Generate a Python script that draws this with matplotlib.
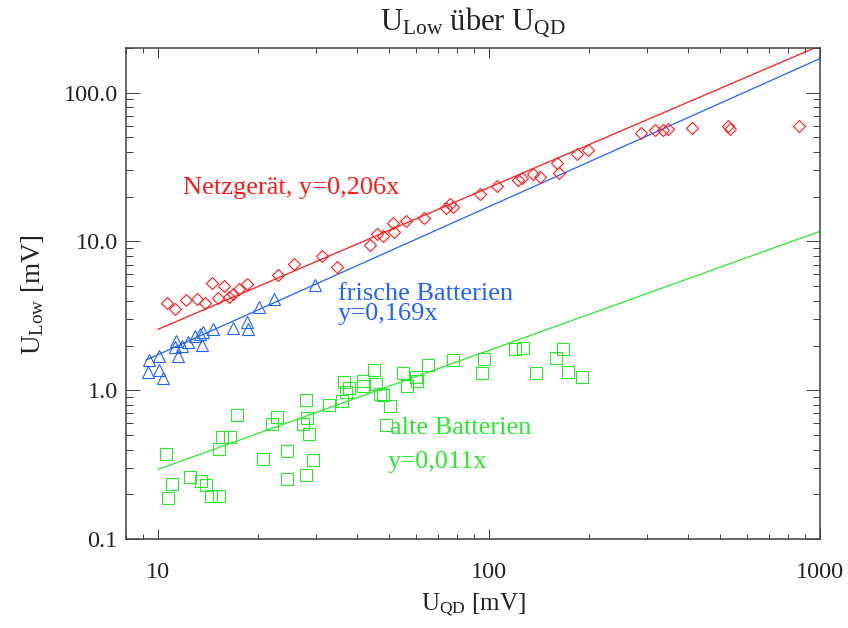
import matplotlib
matplotlib.use("Agg")
import matplotlib.pyplot as plt
from matplotlib.ticker import LogLocator, FixedLocator, FixedFormatter, NullFormatter

plt.rcParams['font.family'] = ['Liberation Serif', 'DejaVu Serif']
plt.rcParams['mathtext.fontset'] = 'custom'
plt.rcParams['mathtext.rm'] = 'Liberation Serif'
plt.rcParams['mathtext.it'] = 'Liberation Serif:italic'

# ---- data ----
netz_x = [10.67, 11.25, 12.12, 13.14, 13.87, 14.59, 15.83, 15.21, 16.42, 16.88,
          17.57, 18.61, 22.99, 25.76, 31.36, 34.83, 43.70, 45.78, 47.94, 51.39,
          51.75, 56.14, 63.71, 74.3, 76.38, 77.68, 94.13, 105.5, 122.6, 125.6,
          136.1, 142.6, 160.8, 163.1, 184.1, 198.7, 287.3, 317.3, 334.8, 348.1,
          409.7, 528.4, 534.6, 864.3]
netz_y = [3.87, 3.51, 4.04, 4.08, 3.84, 5.22, 5.01, 4.14, 4.25, 4.41,
          4.76, 5.17, 5.94, 7.04, 7.96, 6.75, 9.45, 11.19, 10.85, 13.2,
          11.6, 13.68, 14.33, 16.86, 17.88, 16.99, 20.84, 23.6, 25.8, 26.7,
          28.3, 27.1, 33.4, 29.0, 38.4, 41.0, 53.1, 55.8, 55.8, 56.5,
          58.2, 59.7, 57.3, 59.7]

frisch_x = [9.39, 10.07, 9.35, 10.07, 10.37, 11.33, 11.25, 11.79, 11.47, 12.35,
            12.94, 13.39, 13.70, 13.55, 14.63, 16.81, 18.61, 18.74, 20.23, 22.46,
            29.81]
frisch_y = [1.597, 1.70, 1.333, 1.38, 1.22, 2.15, 1.944, 1.98, 1.70, 2.12,
            2.31, 2.39, 2.47, 2.01, 2.57, 2.61, 2.89, 2.57, 3.61, 4.10,
            5.09]

alt_x = [10.57, 11.05, 10.70, 12.49, 13.49, 13.96, 14.43, 15.32, 17.36, 15.29,
         15.58, 16.50, 20.80, 22.06, 22.84, 24.59, 24.49, 27.94, 27.48, 28.25,
         28.59, 29.45, 28.0, 32.93, 35.89, 36.54, 37.63, 37.06, 41.71, 41.71,
         44.94, 45.57, 46.69, 47.67, 50.22, 48.68, 54.80, 56.42, 59.98, 60.73,
         65.42, 77.68, 96.78, 95.45, 119.8, 126.4, 138.4, 159.1, 167.7, 173.6,
         191.4]
alt_y = [0.372, 0.235, 0.188, 0.263, 0.246, 0.231, 0.196, 0.196, 0.682, 0.404,
         0.484, 0.484, 0.346, 0.591, 0.659, 0.391, 0.254, 0.861, 0.594, 0.649,
         0.509, 0.340, 0.270, 0.797, 0.847, 1.146, 1.031, 0.971, 1.154, 1.069,
         1.368, 1.102, 0.940, 0.930, 0.785, 0.585, 1.30, 1.077, 1.234, 1.164,
         1.485, 1.597, 1.614, 1.30, 1.893, 1.914, 1.30, 1.64, 1.884, 1.333,
         1.222]

# fit lines (end points)
netz_fit_x = [10, 1000]
netz_fit_y = [2.57, 206.5]
frisch_fit_x = [9.2, 1000]
frisch_fit_y = [1.60, 169.0]
alt_fit_x = [10, 1000]
alt_fit_y = [0.295, 11.7]

y_ticks = [0.1, 1.0, 10.0, 100.0]
y_tick_labels = ['0.1', '1.0', '10.0', '100.0']
x_ticks = [10, 100, 1000]
x_tick_labels = ['10', '100', '1000']

RED = '#ff1a1a'
BLUE = '#1f63ff'
GREEN = '#2ae82a'
AX = '#404040'

W, H = 848, 628
fig = plt.figure(figsize=(W / 100, H / 100), dpi=100)
l, r, t, b = 126, 820, 47.7, 539.3
ax = fig.add_axes([l / W, 1 - b / H, (r - l) / W, (b - t) / H])
ax.set_xscale('log')
ax.set_yscale('log')
ax.set_xlim(8, 1000)
ax.set_ylim(0.1, 200)

ax.plot(netz_fit_x, netz_fit_y, color=RED, lw=0.9)
ax.plot(frisch_fit_x, frisch_fit_y, color=BLUE, lw=0.9)
ax.plot(alt_fit_x, alt_fit_y, color=GREEN, lw=0.9)

ax.plot(netz_x, netz_y, ls='none', marker='D', ms=6.0, mfc='none', mec=RED, mew=0.8)
ax.plot(frisch_x, frisch_y, ls='none', marker='^', ms=8.0, mfc='none', mec=BLUE, mew=0.8)
ax.plot(alt_x, alt_y, ls='none', marker='s', ms=8.3, mfc='none', mec=GREEN, mew=0.8)

ax.xaxis.set_major_locator(FixedLocator(x_ticks))
ax.xaxis.set_major_formatter(FixedFormatter(x_tick_labels))
ax.xaxis.set_minor_locator(LogLocator(base=10, subs=range(2, 10), numticks=20))
ax.xaxis.set_minor_formatter(NullFormatter())
ax.yaxis.set_major_locator(FixedLocator(y_ticks))
ax.yaxis.set_major_formatter(FixedFormatter(y_tick_labels))
ax.yaxis.set_minor_locator(LogLocator(base=10, subs=range(2, 10), numticks=20))
ax.yaxis.set_minor_formatter(NullFormatter())

ax.tick_params(axis='x', which='major', direction='in', top=True, bottom=True,
               length=7.2, width=0.7, color=AX, labelsize=17.5, labelcolor='#222222', pad=16)
ax.tick_params(axis='x', which='minor', direction='in', top=True, bottom=True,
               length=3.6, width=0.7, color=AX)
ax.tick_params(axis='y', which='major', direction='in', left=True, right=True,
               length=10, width=0.7, color=AX, labelsize=17.5, labelcolor='#222222', pad=6)
ax.tick_params(axis='y', which='minor', direction='in', left=True, right=True,
               length=5, width=0.7, color=AX)
for s in ax.spines.values():
    s.set_linewidth(1.1)
    s.set_color(AX)

def fx(px):
    return px / W

def fy(py):
    return 1 - py / H

fig.text(fx(473), fy(22), r'U$_{\mathrm{Low}}$ über U$_{\mathrm{QD}}$', ha='center', va='center',
         fontsize=22, color='#222222')
fig.text(fx(473), fy(605), r'U$_{\mathrm{QD}}$ [mV]', ha='center', va='center',
         fontsize=18, color='#222222')
fig.text(fx(33), fy(295), r'U$_{\mathrm{Low}}$ [mV]', ha='center', va='center',
         fontsize=19.5, color='#222222', rotation=90)

fig.text(fx(183), fy(188), 'Netzgerät, y=0,206x', ha='left', va='center', fontsize=19, color=RED)
fig.text(fx(338), fy(294), 'frische Batterien', ha='left', va='center', fontsize=19, color=BLUE)
fig.text(fx(338), fy(314), 'y=0,169x', ha='left', va='center', fontsize=19, color=BLUE)
fig.text(fx(390), fy(428), 'alte Batterien', ha='left', va='center', fontsize=19, color=GREEN)
fig.text(fx(388), fy(462), 'y=0,011x', ha='left', va='center', fontsize=19, color=GREEN)

fig.savefig('out.png', dpi=100, facecolor='white')
